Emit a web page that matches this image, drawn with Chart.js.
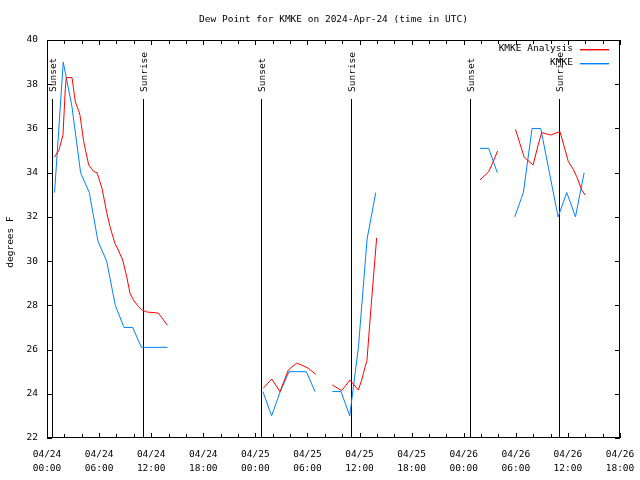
<!DOCTYPE html>
<html>
<head>
<meta charset="utf-8">
<script src="https://cdn.jsdelivr.net/npm/chart.js@4.4.1/dist/chart.umd.min.js"></script>
<style>
  html, body { margin: 0; padding: 0; background: #fff; }
  canvas { display: block; }
</style>
</head>
<body>
<canvas id="dewChart" width="640" height="480"></canvas>
<script>
// hours since 2024-04-24 00:00 UTC, null value = gap in the record
const kmkeHours = [
  0.87, 1.87, 2.87, 3.87, 4.87, 5.87, 6.87, 7.87, 8.87, 9.87, 10.87, 11.87, 12.87, 13.87, 14.5,
  24.87, 25.87, 26.87, 27.87, 28.87, 29.87, 30.87, 31.5,
  32.87, 33.87, 34.87, 35.87, 36.87, 37.87, 38.5,
  49.87, 50.87, 51.87, 52.5,
  53.87, 54.87, 55.87, 56.87, 57.87, 58.87, 59.87, 60.87, 61.87
];
const kmkeDewpt = [
  33.1, 39.0, 37.0, 34.0, 33.1, 30.9, 30.0, 28.0, 27.0, 27.0, 26.1, 26.1, 26.1, 26.1, null,
  24.1, 23.0, 24.1, 25.0, 25.0, 25.0, 24.1, null,
  24.1, 24.1, 23.0, 26.1, 31.0, 33.1, null,
  35.1, 35.1, 34.0, null,
  32.0, 33.1, 36.0, 36.0, 34.0, 32.0, 33.1, 32.0, 34.0
];

const analysisHours = [
  0.84, 1.35, 1.53, 1.84, 2.11, 2.22, 2.88, 3.26, 3.65, 3.8, 4.23, 4.8, 5.38, 5.76, 6.33, 6.88,
  7.26, 7.83, 8.21, 8.72, 9.18, 9.56, 9.94, 10.52, 10.91, 11.48, 12.82, 13.4, 13.86, 14.5,
  24.91, 25.88, 26.84, 27.79, 28.1, 28.76, 29.34, 30.1, 30.95, 31.5,
  32.86, 33.94, 34.9, 35.86, 36.25, 36.63, 36.85, 37.4, 37.97, 38.5,
  49.87, 50.87, 51.4, 51.9, 52.5,
  53.96, 54.46, 54.95, 55.41, 55.99, 56.57, 56.98, 57.56, 58.05, 58.51, 59.09, 59.58, 60.05,
  60.62, 61.01, 61.59, 61.97
];
const analysisDewpt = [
  34.7, 35.0, 35.25, 35.7, 37.8, 38.3, 38.3, 37.2, 36.8, 36.6, 35.4, 34.35, 34.05, 34.0, 33.3, 32.2,
  31.55, 30.8, 30.5, 30.05, 29.3, 28.55, 28.25, 27.95, 27.8, 27.7, 27.65, 27.35, 27.1, null,
  24.25, 24.67, 24.1, 25.07, 25.18, 25.38, 25.3, 25.15, 24.88, null,
  24.4, 24.14, 24.62, 24.17, 24.62, 25.2, 25.5, 28.3, 31.05, null,
  33.67, 34.04, 34.5, 34.98, null,
  35.96, 35.33, 34.72, 34.54, 34.35, 35.25, 35.81, 35.75, 35.7, 35.78, 35.85, 35.17, 34.5,
  34.15, 33.82, 33.22, 32.99
];

const sunEventHours = [0.62, 11.08, 24.65, 35.05, 48.68, 59.03];
const sunEventLabels = ["Sunset", "Sunrise", "Sunset", "Sunrise", "Sunset", "Sunrise"];

const xTickHours = [0, 6, 12, 18, 24, 30, 36, 42, 48, 54, 60, 66];
const xTickDates = ["04/24", "04/24", "04/24", "04/24", "04/25", "04/25", "04/25", "04/25", "04/26", "04/26", "04/26", "04/26"];
const xTickTimes = ["00:00", "06:00", "12:00", "18:00", "00:00", "06:00", "12:00", "18:00", "00:00", "06:00", "12:00", "18:00"];
const yTicks = [22, 24, 26, 28, 30, 32, 34, 36, 38, 40];

const TITLE = "Dew Point for KMKE on 2024-Apr-24 (time in UTC)";
const RED = "#ff0000";
const BLUE = "#0080ff";
const FONT_FAMILY = '"DejaVu Sans Mono", monospace';
const FONT_SIZE = 9.5;
const FONT = FONT_SIZE + "px " + FONT_FAMILY;

function toPoints(hours, values) {
  return hours.map((h, i) => ({ x: h, y: values[i] }));
}

const gnuplotFrame = {
  id: "gnuplotFrame",
  beforeDatasetsDraw(chart) {
    const { ctx, chartArea: a, scales: { x } } = chart;
    ctx.save();
    ctx.strokeStyle = "#000";
    ctx.lineWidth = 1;
    ctx.fillStyle = "#000";
    ctx.font = FONT;

    ctx.textAlign = "center";
    ctx.textBaseline = "middle";
    ctx.fillText(TITLE, (a.left + a.right) / 2, 20);

    ctx.save();
    ctx.translate(11, 242);
    ctx.rotate(-Math.PI / 2);
    ctx.fillText("degrees F", 0, 0);
    ctx.restore();

    sunEventHours.forEach((h, i) => {
      const px = Math.round(x.getPixelForValue(h)) + 0.5;
      ctx.beginPath();
      ctx.moveTo(px, 99);
      ctx.lineTo(px, a.bottom);
      ctx.stroke();
      ctx.save();
      ctx.translate(px + 1, 92);
      ctx.rotate(-Math.PI / 2);
      ctx.textAlign = "left";
      ctx.textBaseline = "middle";
      ctx.fillText(sunEventLabels[i], 0, 0);
      ctx.restore();
    });
    ctx.restore();
  },
  afterDraw(chart) {
    const { ctx, chartArea: a, scales: { x, y } } = chart;
    ctx.save();
    ctx.strokeStyle = "#000";
    ctx.lineWidth = 1;
    ctx.strokeRect(a.left + 0.5, a.top + 0.5, a.right - a.left - 1, a.bottom - a.top - 1);

    ctx.beginPath();
    for (let h = 0; h <= 66; h += 2) {
      const px = Math.round(x.getPixelForValue(h)) + 0.5;
      const len = h % 6 === 0 ? 5 : 4;
      ctx.moveTo(px, a.bottom);
      ctx.lineTo(px, a.bottom - len);
      ctx.moveTo(px, a.top);
      ctx.lineTo(px, a.top + len);
    }
    yTicks.forEach((v) => {
      const py = Math.round(y.getPixelForValue(v)) + 0.5;
      ctx.moveTo(a.left, py);
      ctx.lineTo(a.left + 5, py);
      ctx.moveTo(a.right, py);
      ctx.lineTo(a.right - 5, py);
    });
    ctx.stroke();

    // legend: text on the left, line sample on the right
    ctx.font = FONT;
    ctx.textAlign = "right";
    ctx.textBaseline = "middle";
    const legendColors = [RED, BLUE];
    chart.data.datasets.forEach((ds, i) => {
      const ly = 49 + i * 14;
      ctx.fillStyle = "#000";
      ctx.fillText(ds.label, 573, ly);
      ctx.fillStyle = legendColors[i];
      ctx.fillRect(580, ly, 29, 1.4);
    });
    ctx.restore();
  }
};

new Chart(document.getElementById("dewChart"), {
  type: "line",
  data: {
    datasets: [
      {
        label: "KMKE Analysis",
        data: toPoints(analysisHours, analysisDewpt),
        borderColor: RED,
        borderWidth: 1,
        pointRadius: 0,
        tension: 0,
        spanGaps: false
      },
      {
        label: "KMKE",
        data: toPoints(kmkeHours, kmkeDewpt),
        borderColor: BLUE,
        borderWidth: 1,
        pointRadius: 0,
        tension: 0,
        spanGaps: false
      }
    ]
  },
  options: {
    responsive: false,
    animation: false,
    devicePixelRatio: 1,
    layout: { padding: { left: 0, right: 20, top: 40, bottom: 0 } },
    plugins: {
      legend: { display: false },
      tooltip: { enabled: false },
      title: { display: false }
    },
    scales: {
      x: {
        type: "linear",
        min: 0,
        max: 66,
        grid: { display: false, drawTicks: false, tickLength: 0 },
        border: { display: false },
        afterBuildTicks: (s) => { s.ticks = xTickHours.map((v) => ({ value: v })); },
        afterFit: (s) => { s.height = 42; s.paddingLeft = 0; s.paddingRight = 0; },
        ticks: {
          autoSkip: false,
          maxRotation: 0,
          padding: 10,
          color: "#000",
          font: { family: FONT_FAMILY, size: FONT_SIZE, lineHeight: 1.45 },
          callback: (v) => {
            const i = xTickHours.indexOf(v);
            return i < 0 ? "" : [xTickDates[i], xTickTimes[i]];
          }
        }
      },
      y: {
        min: 22,
        max: 40,
        grid: { display: false, drawTicks: false, tickLength: 0 },
        border: { display: false },
        afterBuildTicks: (s) => { s.ticks = yTicks.map((v) => ({ value: v })); },
        afterFit: (s) => { s.width = 47; s.paddingTop = 0; s.paddingBottom = 0; },
        ticks: {
          padding: 9,
          color: "#000",
          font: { family: FONT_FAMILY, size: FONT_SIZE }
        }
      }
    }
  },
  plugins: [gnuplotFrame]
});
</script>
</body>
</html>
